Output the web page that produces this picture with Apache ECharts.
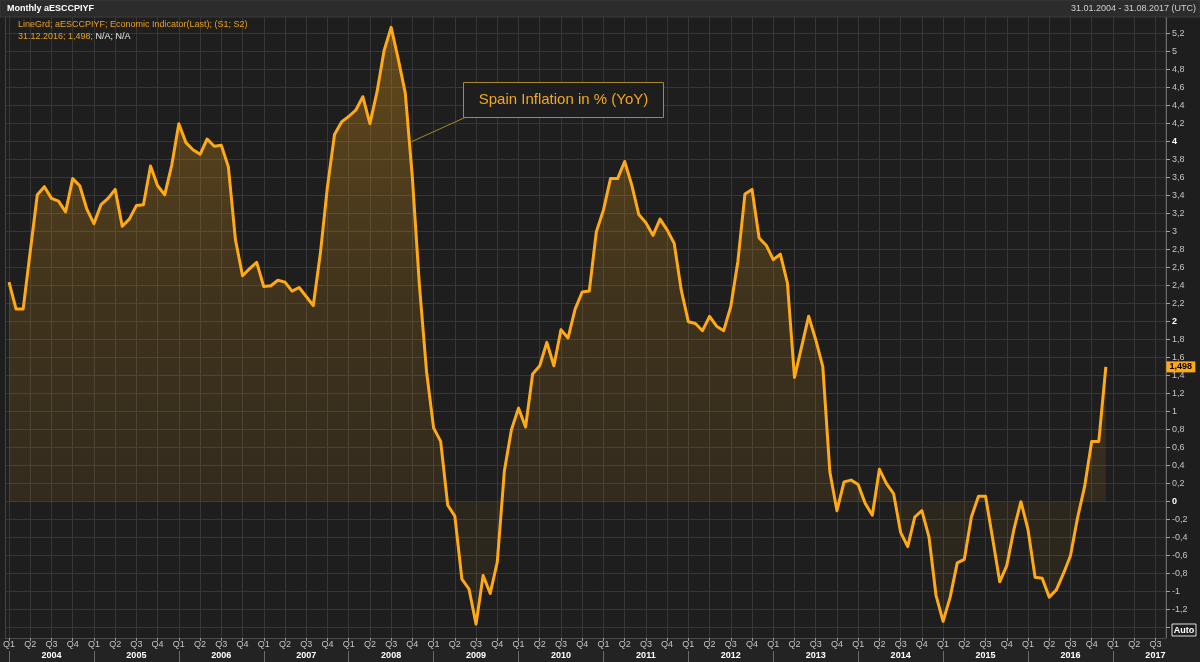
<!DOCTYPE html>
<html><head><meta charset="utf-8">
<script src="https://cdn.jsdelivr.net/npm/echarts@6/dist/echarts.min.js"></script>
<style>html,body{margin:0;padding:0;background:#1e1e1e;}#c{width:1200px;height:662px;}</style>
</head><body><div id="c"></div>
<script>
// ---- data (Spain CPI YoY, monthly, %) ----
const years = [2004, 2005, 2006, 2007, 2008, 2009, 2010, 2011, 2012, 2013, 2014, 2015, 2016, 2017];
const axisEndMonth = 8; // axis runs to Aug 2017
const quarterLabels = ['Q1', 'Q2', 'Q3', 'Q4'];
const v2004 = [2.44, 2.14, 2.14, 2.78, 3.41, 3.50, 3.37, 3.34, 3.22, 3.59, 3.51, 3.25];
const v2005 = [3.09, 3.30, 3.37, 3.47, 3.06, 3.14, 3.29, 3.30, 3.73, 3.51, 3.41, 3.74];
const v2006 = [4.20, 3.99, 3.91, 3.86, 4.03, 3.95, 3.96, 3.72, 2.91, 2.51, 2.59, 2.66];
const v2007 = [2.39, 2.40, 2.46, 2.44, 2.34, 2.38, 2.28, 2.18, 2.76, 3.50, 4.08, 4.22];
const v2008 = [4.28, 4.35, 4.50, 4.20, 4.55, 5.01, 5.27, 4.92, 4.54, 3.60, 2.40, 1.45];
const v2009 = [0.82, 0.67, -0.04, -0.16, -0.86, -0.97, -1.36, -0.82, -1.02, -0.67, 0.34, 0.80];
const v2010 = [1.04, 0.83, 1.42, 1.51, 1.77, 1.51, 1.91, 1.82, 2.14, 2.33, 2.34, 3.00];
const v2011 = [3.24, 3.59, 3.59, 3.78, 3.52, 3.19, 3.10, 2.96, 3.14, 3.02, 2.87, 2.35];
const v2012 = [2.00, 1.98, 1.90, 2.06, 1.95, 1.90, 2.17, 2.67, 3.42, 3.47, 2.93, 2.85];
const v2013 = [2.69, 2.75, 2.43, 1.38, 1.72, 2.06, 1.80, 1.50, 0.33, -0.10, 0.22, 0.24];
const v2014 = [0.19, -0.02, -0.15, 0.36, 0.20, 0.09, -0.34, -0.50, -0.17, -0.10, -0.39, -1.04];
const v2015 = [-1.33, -1.06, -0.68, -0.64, -0.17, 0.06, 0.06, -0.41, -0.89, -0.71, -0.31, 0.00];
const v2016 = [-0.31, -0.84, -0.85, -1.06, -0.98, -0.80, -0.60, -0.18, 0.17, 0.67, 0.67, 1.498];
const lastValue = 1.498;
const lastLabel = '1,498';
const seriesName = 'Spain Inflation in % (YoY)';

// ---- build ----
const values = [].concat(v2004, v2005, v2006, v2007, v2008, v2009, v2010, v2011, v2012, v2013, v2014, v2015, v2016);
const categories = [];
years.forEach(function (y) {
  for (let m = 1; m <= 12; m++) {
    if (y === years[years.length - 1] && m > axisEndMonth) break;
    categories.push(y + '-' + (m < 10 ? '0' + m : m));
  }
});

const FONT = '"Liberation Sans", Arial, sans-serif';
const LINE = '#ffaa14';
const isQ = function (i) { return i % 3 === 0; };
const isY = function (i) { return i % 12 === 0; };

function yFmt(v) {
  const r = Math.round(v * 10) / 10;
  if (r > 5.3 || r < -1.3) return '';
  let s = Number.isInteger(r) ? String(r === 0 ? 0 : r) : r.toFixed(1);
  s = s.replace('.', ',');
  if (r === 4 || r === 2 || r === 0) return '{b|' + s + '}';
  return s;
}
function xFmt(val, idx) {
  const parts = val.split('-');
  const m = parseInt(parts[1], 10) - 1;
  const q = quarterLabels[Math.floor(m / 3)];
  if (m === 6) return '{q|' + q + '}\n{y|' + parts[0] + '}';
  return '{q|' + q + '}';
}

const chart = echarts.init(document.getElementById('c'), null, { renderer: 'canvas' });
const areaGrad = new echarts.graphic.LinearGradient(0, 20, 0, 640, [
  { offset: 0, color: 'rgba(255,170,20,0.45)' },
  { offset: 0.22, color: 'rgba(255,170,20,0.33)' },
  { offset: 0.45, color: 'rgba(255,170,20,0.21)' },
  { offset: 0.776, color: 'rgba(255,170,20,0.13)' },
  { offset: 0.778, color: 'rgba(255,170,20,0.09)' },
  { offset: 1, color: 'rgba(255,170,20,0.09)' }
], true);

chart.setOption({
  backgroundColor: '#1e1e1e',
  animation: false,
  grid: { left: 5, right: 34, top: 15.7, bottom: 16.3, show: true, backgroundColor: '#1e1e1e', borderColor: '#454545', borderWidth: 1 },
  xAxis: [
    {
      type: 'category', data: categories, boundaryGap: true,
      axisLine: { show: false }, axisTick: { show: false }, axisLabel: { show: false },
      splitLine: { show: true, interval: isQ, alignWithLabel: true, lineStyle: { color: '#363636', width: 1 } }
    },
    {
      type: 'category', data: categories, boundaryGap: true, position: 'bottom', offset: -7.7, z: 10,
      axisLine: { show: true, lineStyle: { color: '#4a4a4a' } },
      axisTick: { show: true, interval: isQ, alignWithLabel: true, length: 3, lineStyle: { color: '#9a9a9a' } },
      axisLabel: {
        show: true, interval: isQ, formatter: xFmt, margin: 2,
        rich: {
          q: { color: '#c4c4c4', fontSize: 9, fontFamily: FONT, lineHeight: 10 },
          y: { color: '#ffffff', fontSize: 9, fontWeight: 'bold', fontFamily: FONT, lineHeight: 11 }
        }
      },
      splitLine: { show: false }
    },
    {
      type: 'category', data: categories, boundaryGap: true, position: 'bottom', offset: 5.3, z: 10,
      axisLine: { show: false },
      axisTick: { show: true, interval: isY, alignWithLabel: true, length: 11, lineStyle: { color: '#6a6a6a' } },
      axisLabel: { show: false }, splitLine: { show: false }
    }
  ],
  yAxis: {
    type: 'value', position: 'right', min: -1.6, max: 5.4, interval: 0.2,
    axisLine: { show: true, lineStyle: { color: '#6a6a6a' } },
    axisTick: { show: true, length: 4, lineStyle: { color: '#a0a0a0' } },
    axisLabel: {
      show: true, margin: 6, formatter: yFmt, color: '#c4c4c4', fontSize: 9, fontFamily: FONT,
      rich: { b: { color: '#ffffff', fontWeight: 'bold', fontSize: 9, fontFamily: FONT } }
    },
    splitLine: { show: true, lineStyle: { color: '#363636', width: 1 } }
  },
  series: [{
    name: seriesName, type: 'line', data: values, xAxisIndex: 0,
    symbol: 'none', smooth: false,
    lineStyle: { color: LINE, width: 3, join: 'round' },
    areaStyle: { color: areaGrad, origin: 'auto' },
    markPoint: {
      symbol: 'rect', symbolSize: [29, 11], symbolOffset: [75, 0], silent: true,
      itemStyle: { color: LINE },
      label: { show: true, position: 'inside', formatter: lastLabel, color: '#000', fontWeight: 'bold', fontSize: 9, fontFamily: FONT },
      data: [{ coord: [categories[values.length - 1], lastValue], value: lastValue }]
    }
  }],
  graphic: [
    { type: 'rect', z: 50, shape: { x: 0, y: 0, width: 1200, height: 17 }, style: { fill: '#2c2c2c', stroke: '#3a3a3a', lineWidth: 1 } },
    { type: 'text', z: 51, x: 7, y: 9, style: { text: 'Monthly aESCCPIYF', fill: '#ffffff', font: 'bold 9px ' + FONT, verticalAlign: 'middle' } },
    { type: 'text', z: 51, x: 1196, y: 9, style: { text: '31.01.2004 - 31.08.2017 (UTC)', fill: '#cfcfcf', font: '9px ' + FONT, align: 'right', verticalAlign: 'middle' } },
    { type: 'text', z: 51, x: 18, y: 25, style: { text: 'LineGrd; aESCCPIYF; Economic Indicator(Last); (S1; S2)', fill: '#e8a020', font: '9px ' + FONT, verticalAlign: 'middle' } },
    { type: 'text', z: 51, x: 18, y: 37, style: {
        text: '{o|31.12.2016; 1,498;} {w|N/A; N/A}', font: '9px ' + FONT, verticalAlign: 'middle',
        rich: { o: { fill: '#e8a020', font: '9px ' + FONT }, w: { fill: '#e6e6e6', font: '9px ' + FONT } } } },
    { type: 'rect', z: 5, shape: { x: 0, y: 638, width: 1200, height: 24 }, style: { fill: '#232323' } },
    { type: 'rect', z: 51, shape: { x: 1172, y: 624, width: 24, height: 12 }, style: { fill: '#1e1e1e', stroke: '#e0e0e0', lineWidth: 1 } },
    { type: 'text', z: 52, x: 1184, y: 630.5, style: { text: 'Auto', fill: '#ffffff', font: 'bold 9px ' + FONT, align: 'center', verticalAlign: 'middle' } },
    { type: 'line', z: 40, shape: { x1: 465, y1: 117.5, x2: 411.5, y2: 141.7 }, style: { stroke: '#a88a2a', lineWidth: 1 } },
    { type: 'rect', z: 41, shape: { x: 463.5, y: 82.5, width: 200, height: 35 }, style: { fill: '#1e1e1e', stroke: '#a88a2a', lineWidth: 1 } },
    { type: 'text', z: 42, x: 563.5, y: 100, style: { text: seriesName, fill: '#f2a81c', font: '15px ' + FONT, align: 'center', verticalAlign: 'middle' } }
  ]
});
</script>
</body></html>
